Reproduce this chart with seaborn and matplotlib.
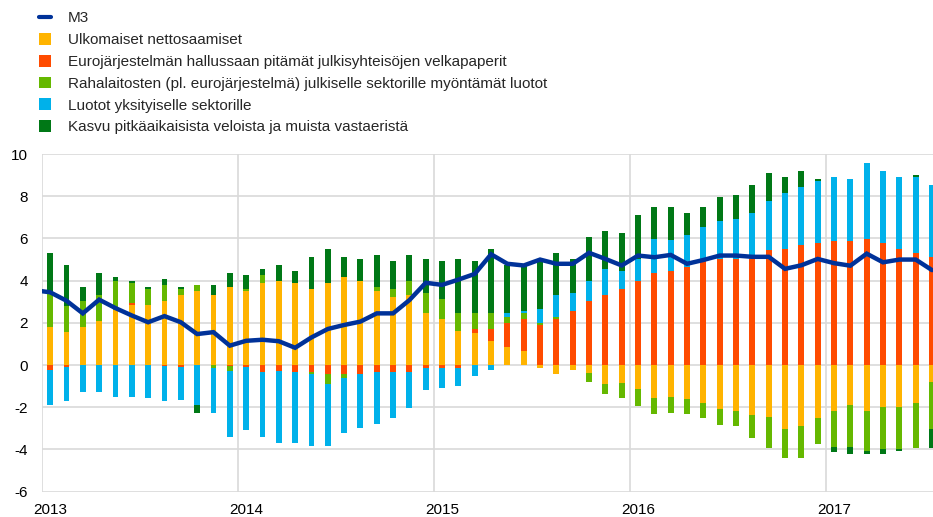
import matplotlib
matplotlib.use("Agg")
import matplotlib.pyplot as plt
import numpy as np
import pandas as pd
import seaborn as sns
from matplotlib.patches import Patch
from matplotlib.lines import Line2D

# monthly contributions, Jan 2013 .. Jul 2017 (percentage points)
ulkomaiset = [1.82, 1.55, 1.82, 2.10, 2.60, 2.85, 2.85, 3.05, 3.34, 3.53, 3.34, 3.70,
              3.51, 3.90, 3.99, 3.90, 3.60, 3.90, 4.18, 3.99, 3.51, 3.24, 3.34, 2.47,
              2.18, 1.63, 1.52, 1.14, 0.87, 0.68, -0.16, -0.44, -0.25, -0.38, -0.92, -0.85,
              -1.14, -1.58, -1.52, -1.60, -1.79, -2.07, -2.17, -2.36, -2.45, -3.02, -2.91, -2.53,
              -2.17, -1.88, -2.17, -1.98, -1.98, -1.79, -0.82]
eurojarjestelma = [-0.24, -0.08, 0.0, 0.0, 0.0, 0.10, 0.0, -0.06, -0.08, 0.0, 0.0, -0.06,
                   -0.08, -0.35, -0.27, -0.35, -0.35, -0.44, -0.44, -0.44, -0.35, -0.35, -0.35, -0.16,
                   -0.16, -0.16, 0.19, 0.57, 1.13, 1.52, 1.91, 2.20, 2.58, 3.05, 3.34, 3.60,
                   3.99, 4.37, 4.46, 4.65, 5.03, 5.03, 5.03, 5.03, 5.43, 5.50, 5.70, 5.79,
                   5.89, 5.89, 5.98, 5.79, 5.50, 5.32, 5.13]
rahalaitokset = [1.68, 1.25, 1.23, 1.24, 1.39, 0.95, 0.75, 0.75, 0.26, 0.27, -0.16, -0.21,
                 0.09, 0.37, 0.0, 0.0, -0.09, -0.48, -0.19, 0.0, 0.19, 0.36, 0.65, 0.95,
                 0.97, 0.84, 0.76, 0.76, 0.30, 0.28, 0.09, 0.09, 0.0, -0.44, -0.47, -0.73,
                 -0.81, -0.76, -0.73, -0.74, -0.74, -0.75, -0.73, -1.11, -1.49, -1.39, -1.50, -1.22,
                 -1.71, -2.00, -1.90, -1.99, -2.02, -2.15, -2.22]
yksityiset = [-1.63, -1.61, -1.30, -1.30, -1.49, -1.49, -1.58, -1.63, -1.58, -1.90, -2.09, -3.12,
              -3.01, -3.04, -3.40, -3.32, -3.39, -2.91, -2.57, -2.55, -2.45, -2.18, -1.68, -1.03,
              -0.95, -0.85, -0.54, -0.25, 0.17, 0.10, 0.66, 1.05, 0.84, 0.94, 1.22, 0.86,
              1.03, 1.61, 1.47, 1.52, 1.52, 1.81, 1.90, 2.19, 2.34, 2.65, 2.73, 2.93,
              3.02, 2.92, 3.59, 3.41, 3.41, 3.59, 3.40]
pitkaaikaiset = [1.82, 1.95, 0.65, 1.03, 0.19, 0.10, 0.10, 0.30, 0.10, -0.35, 0.46, 0.67,
                 0.67, 0.29, 0.76, 0.56, 1.53, 1.60, 0.95, 1.04, 1.52, 1.34, 1.23, 1.61,
                 1.79, 2.56, 2.47, 3.03, 2.28, 2.12, 2.28, 1.98, 1.61, 2.07, 1.78, 1.79,
                 2.08, 1.50, 1.55, 1.03, 0.93, 1.12, 1.12, 1.31, 1.33, 0.76, 0.77, 0.09,
                 -0.25, -0.34, -0.15, -0.25, -0.05, 0.09, -0.90]
# M3 annual growth, Dec 2012 .. Jul 2017
m3 = [3.55, 3.45, 3.05, 2.45, 3.10, 2.70, 2.35, 2.03, 2.32, 2.03, 1.47, 1.56, 0.92,
      1.15, 1.20, 1.13, 0.82, 1.31, 1.71, 1.90, 2.06, 2.45, 2.45, 3.08, 3.90,
      3.80, 4.05, 4.32, 5.25, 4.80, 4.72, 5.00, 4.80, 4.80, 5.32, 5.03, 4.72,
      5.19, 5.11, 5.22, 4.80, 4.98, 5.19, 5.19, 5.13, 5.13, 4.56, 4.73, 5.03,
      4.83, 4.71, 5.28, 4.87, 5.00, 5.00, 4.50]

years = ["2013", "2014", "2015", "2016", "2017"]
labels = [
    "Ulkomaiset nettosaamiset",
    "Eurojärjestelmän hallussaan pitämät julkisyhteisöjen velkapaperit",
    "Rahalaitosten (pl. eurojärjestelmä) julkiselle sektorille myöntämät luotot",
    "Luotot yksityiselle sektorille",
    "Kasvu pitkäaikaisista veloista ja muista vastaeristä",
]
colors = ["#FFB400", "#FF4B00", "#65B800", "#00B1EA", "#007816"]
M3_COLOR = "#003299"

sns.set_theme(style="whitegrid")
plt.rcParams["font.family"] = ["Liberation Sans", "DejaVu Sans"]
plt.rcParams["axes.unicode_minus"] = False

fig = plt.figure(figsize=(9.33, 5.17), dpi=100)
ax = fig.add_axes([0.045, 0.049, 0.955, 0.653])

series = [ulkomaiset, eurojarjestelma, rahalaitokset, yksityiset, pitkaaikaiset]
x = np.arange(len(ulkomaiset)) + 0.5
pos = np.zeros(len(x))
neg = np.zeros(len(x))
for vals, col in zip(series, colors):
    v = np.array(vals)
    bottom = np.where(v >= 0, pos, neg)
    ax.bar(x, v, bottom=bottom, width=0.36, color=col, linewidth=0)
    pos += np.clip(v, 0, None)
    neg += np.clip(v, None, 0)

line_df = pd.DataFrame({"x": np.arange(len(m3)) - 0.5, "m3": m3})
sns.lineplot(data=line_df, x="x", y="m3", ax=ax, color=M3_COLOR, linewidth=3.2,
             solid_joinstyle="miter", zorder=5)

ax.set_xlim(0, 54.56)
ax.set_ylim(-6, 10)
ax.set_yticks(np.arange(-6, 11, 2))
ax.set_xticks(np.arange(len(years)) * 12 + 0.5)
ax.set_xticklabels(years)
ax.set_xticks(np.arange(len(years)) * 12, minor=True)
ax.grid(False)
ax.grid(axis="y", which="major", color="#d9d9d9", linewidth=1.2)
ax.grid(axis="x", which="minor", color="#d9d9d9", linewidth=1.2)
ax.set_xlabel("")
ax.set_ylabel("")
for s in ax.spines.values():
    s.set_visible(False)
ax.tick_params(axis="both", which="both", length=0, labelsize=11, colors="#000000")
ax.tick_params(axis="y", pad=10)
ax.tick_params(axis="x", pad=8)

handles = [Line2D([0], [0], color=M3_COLOR, linewidth=3)]
handles += [Patch(facecolor=c, edgecolor="none") for c in colors]
fig.legend(handles, ["M3"] + labels, loc="upper left", bbox_to_anchor=(0.035, 0.99),
           frameon=False, fontsize=11, handlelength=0.8, handleheight=0.8,
           handletextpad=1.1, labelspacing=0.5, borderaxespad=0)

fig.savefig("out.png", dpi=100)
